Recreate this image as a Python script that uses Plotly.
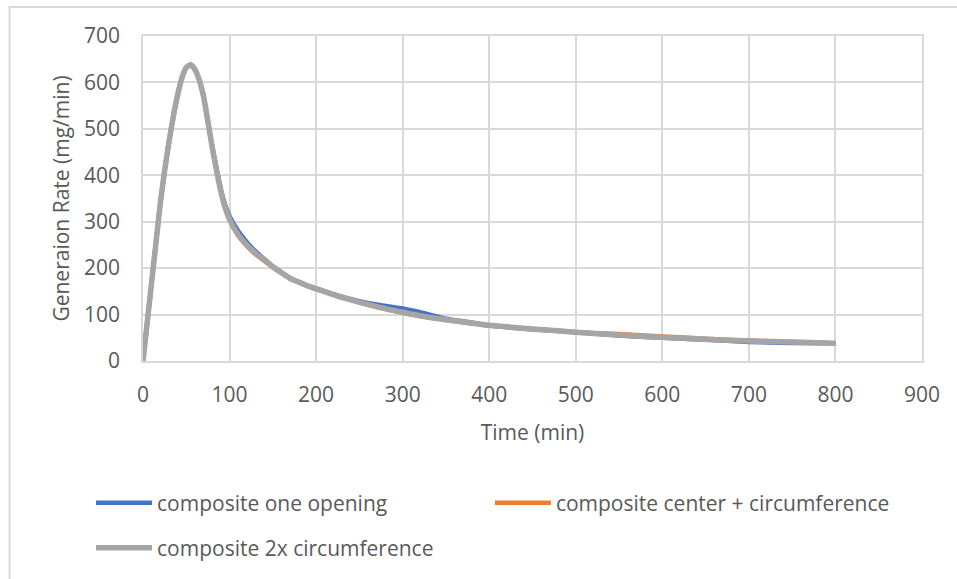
import plotly.graph_objects as go

time_min = [0, 5, 10, 15, 20, 25, 30, 35, 40, 45, 50, 55, 60, 65, 70, 75, 80, 85, 90, 95,
            100, 110, 120, 130, 140, 150, 160, 170, 180, 190, 200, 225, 250, 275, 300,
            325, 350, 375, 400, 450, 500, 550, 600, 650, 700, 750, 800]

one_opening = [0, 85, 170, 255, 340, 410, 472, 526, 573, 610, 632, 638, 628, 605, 570, 515, 462, 414, 370, 336,
               312, 280, 256, 236, 220, 204, 191, 179, 170, 162, 156, 141, 129, 120, 113,
               103, 91, 84, 77, 69, 62, 55, 50, 46, 41, 39, 38.5]

center_circ = [0, 85, 170, 255, 340, 410, 472, 526, 573, 610, 632, 638, 628, 605, 570, 515, 460, 410, 365, 330,
               304, 270, 248, 230, 216, 202, 189, 177, 169, 161, 155, 139, 126, 114, 104,
               95, 88, 82, 76, 68, 62, 58, 53, 48, 44, 41, 37.5]

two_x_circ = [0, 85, 170, 255, 340, 410, 472, 526, 573, 610, 632, 638, 628, 605, 570, 515, 460, 410, 365, 330,
              305, 272, 250, 232, 218, 203, 190, 178, 170, 162, 156, 140, 127, 115, 105,
              96, 89, 83, 77, 69, 62, 56, 51, 47, 43, 41, 38.5]

series_names = ["composite one opening", "composite center + circumference", "composite 2x circumference"]
series_colors = ["#4472C4", "#ED7D31", "#A5A5A5"]
series_widths = [4.5, 4.5, 5.5]
series_values = [one_opening, center_circ, two_x_circ]
legend_ids = ["legend", "legend2", "legend3"]

x_ticks = [0, 100, 200, 300, 400, 500, 600, 700, 800, 900]
y_ticks = [0, 100, 200, 300, 400, 500, 600, 700]

FONT = "Open Sans"
TXT = "#595959"
GRID = "#D9D9D9"

fig = go.Figure()
for name, col, w, vals, lg in zip(series_names, series_colors, series_widths, series_values, legend_ids):
    fig.add_trace(go.Scatter(
        x=time_min, y=vals, mode="lines", name=name,
        line=dict(color=col, width=w, shape="spline", smoothing=0.5),
        legend=lg, hoverinfo="skip", showlegend=True,
    ))

legend_common = dict(font=dict(family=FONT, size=21, color=TXT), bgcolor="rgba(0,0,0,0)",
                     borderwidth=0, xanchor="left", yanchor="middle", itemwidth=56,
                     orientation="h", visible=True)

fig.update_layout(
    width=957, height=579,
    margin=dict(l=143, r=35, t=36, b=217),
    paper_bgcolor="white", plot_bgcolor="white",
    font=dict(family=FONT, size=21, color=TXT),
    showlegend=True,
    legend=dict(x=-0.0667, y=-0.4325, **legend_common),
    legend2=dict(x=0.4453, y=-0.4325, **legend_common),
    legend3=dict(x=-0.0667, y=-0.5705, **legend_common),
    xaxis=dict(
        range=[0, 900], tickvals=x_ticks, ticktext=[str(v) for v in x_ticks],
        showgrid=True, gridcolor=GRID, gridwidth=1.5,
        showline=True, linecolor=GRID, linewidth=1.5, mirror=True,
        zeroline=False, ticks="", ticklabelstandoff=14,
        tickfont=dict(family=FONT, size=21, color=TXT),
        title=dict(text="Time (min)", font=dict(family=FONT, size=21, color=TXT), standoff=18),
    ),
    yaxis=dict(
        range=[0, 700], tickvals=y_ticks, ticktext=[str(v) for v in y_ticks],
        showgrid=True, gridcolor=GRID, gridwidth=1.5,
        showline=True, linecolor=GRID, linewidth=1.5, mirror=True,
        zeroline=False, ticks="", ticklabelstandoff=17,
        tickfont=dict(family=FONT, size=21, color=TXT),
        title=dict(text="Generaion Rate (mg/min)", font=dict(family=FONT, size=21, color=TXT), standoff=9),
    ),
    shapes=[dict(type="rect", xref="paper", yref="paper",
                 x0=-0.1713, x1=1.2, y0=-1.0, y1=1.089,
                 line=dict(color=GRID, width=2), fillcolor="rgba(0,0,0,0)", layer="below")],
)

fig.write_html("out.html")
